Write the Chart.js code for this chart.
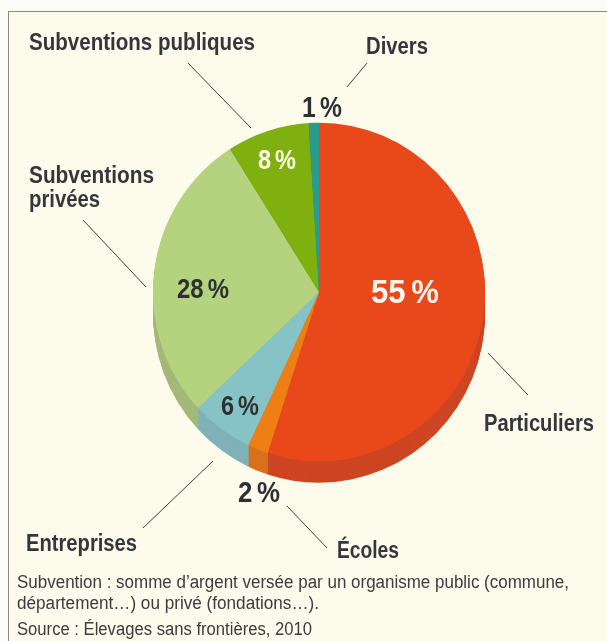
<!DOCTYPE html>
<html lang="fr">
<head>
<meta charset="utf-8">
<title>Financement</title>
<script src="https://cdn.jsdelivr.net/npm/chart.js@4"></script>
<style>
  html, body { margin: 0; padding: 0; background: #fbfcf6; }
  #wrap { position: relative; width: 607px; height: 641px; overflow: hidden; }
  #panel { position: absolute; left: 8px; top: 11px; width: 620px; height: 660px;
           background: #fdfcec; border: 1px solid #8a8a84; box-sizing: border-box; }
  canvas { position: absolute; left: 0; top: 0; }
</style>
</head>
<body>
<div id="wrap">
  <div id="panel"></div>
  <canvas id="chart" width="607" height="641"></canvas>
</div>
<script>
const categories = ['Particuliers', 'Écoles', 'Entreprises', 'Subventions privées', 'Subventions publiques', 'Divers'];
const shares = [55, 2, 6, 28, 8, 1];
const faceColors = ['#e9481b', '#ef7f14', '#86c3c6', '#b5d27f', '#7fb00f', '#2b9c8c'];
const sideColors = ['#cd4522', '#d9701c', '#7fb1b8', '#a3b97a', '#6c960f', '#25887a'];

const FONT = '"Liberation Sans", sans-serif';
const DEPTH = 21;
const STRETCH = 1.02; // le disque est un peu plus haut que large

// textes autour du camembert (w = largeur voulue, la police n'existe pas en condensé)
const texts = [
    { t: 'Subventions publiques', x: 29, y: 50, size: 23, w: 226, c: '#33363a' },
    { t: 'Divers', x: 366, y: 54, size: 23, w: 62, c: '#33363a' },
    { t: '1 %', x: 302, y: 117, size: 30, w: 40, c: '#2e3134' },
    { t: '8 %', x: 258, y: 169, size: 28, w: 38, c: '#fbfbe8' },
    { t: 'Subventions', x: 29, y: 183, size: 23, w: 125, c: '#33363a' },
    { t: 'privées', x: 29, y: 207, size: 23, w: 71, c: '#33363a' },
    { t: '28 %', x: 177, y: 298, size: 28, w: 52, c: '#2b3230' },
    { t: '55 %', x: 371, y: 303, size: 33, w: 68, c: '#fdf6ee' },
    { t: '6 %', x: 221, y: 415, size: 28, w: 38, c: '#2b3230' },
    { t: '2 %', x: 238, y: 502, size: 30, w: 42, c: '#2e3134' },
    { t: 'Particuliers', x: 484, y: 431, size: 23, w: 110, c: '#33363a' },
    { t: 'Entreprises', x: 26, y: 551, size: 23, w: 111, c: '#33363a' },
    { t: 'Écoles', x: 337, y: 558, size: 23, w: 62, c: '#33363a' },
    { t: 'Subvention : somme d’argent versée par un organisme public (commune,', x: 17, y: 588, size: 18, w: 552, c: '#3a3c3e', light: true },
    { t: 'département…) ou privé (fondations…).', x: 17, y: 609, size: 18, w: 302, c: '#3a3c3e', light: true },
    { t: 'Source : Élevages sans frontières, 2010', x: 17, y: 635, size: 18, w: 295, c: '#3a3c3e', light: true }
];

const leaders = [
    [188, 63, 251, 128],
    [367, 63, 347, 87],
    [83, 220, 146, 287],
    [488, 353, 528, 395],
    [213, 461, 143, 528],
    [287, 506, 327, 548]
];

// épaisseur du disque : on empile les arcs décalés vers le bas
const depthPlugin = {
    id: 'depth',
    beforeDatasetsDraw(chart) {
        const ctx = chart.ctx;
        const arcs = chart.getDatasetMeta(0).data;
        const cy = arcs[0].y;
        ctx.save();
        ctx.translate(0, cy);
        ctx.scale(1, STRETCH);
        ctx.translate(0, -cy);
        for (let d = DEPTH; d >= 1; d--) {
            arcs.forEach((arc, i) => {
                const p = arc.getProps(['x', 'y', 'startAngle', 'endAngle', 'outerRadius']);
                ctx.beginPath();
                ctx.moveTo(p.x, p.y + d);
                ctx.arc(p.x, p.y + d, p.outerRadius, p.startAngle, p.endAngle);
                ctx.closePath();
                ctx.fillStyle = sideColors[i];
                ctx.fill();
            });
        }
    },
    afterDatasetsDraw(chart) {
        chart.ctx.restore();
    }
};

const annotationPlugin = {
    id: 'annotations',
    afterDraw(chart) {
        const ctx = chart.ctx;
        ctx.save();
        ctx.strokeStyle = '#3c3c3c';
        ctx.lineWidth = 1;
        leaders.forEach(([x1, y1, x2, y2]) => {
            ctx.beginPath();
            ctx.moveTo(x1, y1);
            ctx.lineTo(x2, y2);
            ctx.stroke();
        });
        ctx.textBaseline = 'alphabetic';
        texts.forEach(o => {
            ctx.font = (o.light ? 'normal ' : 'bold ') + o.size + 'px ' + FONT;
            ctx.fillStyle = o.c;
            ctx.wordSpacing = o.t.endsWith('%') ? '-3px' : '0px';
            const k = o.w / ctx.measureText(o.t).width;
            ctx.save();
            ctx.translate(o.x, o.y);
            ctx.scale(k, 1);
            ctx.fillText(o.t, 0, 0);
            ctx.restore();
        });
        ctx.restore();
    }
};

new Chart(document.getElementById('chart').getContext('2d'), {
    type: 'pie',
    data: {
        labels: categories,
        datasets: [{
            data: shares,
            backgroundColor: faceColors,
            borderWidth: 0
        }]
    },
    options: {
        responsive: false,
        animation: false,
        layout: { padding: { left: 153, right: 122, top: 126, bottom: 183 } },
        plugins: { legend: { display: false }, tooltip: { enabled: false } }
    },
    plugins: [depthPlugin, annotationPlugin]
});
</script>
</body>
</html>
